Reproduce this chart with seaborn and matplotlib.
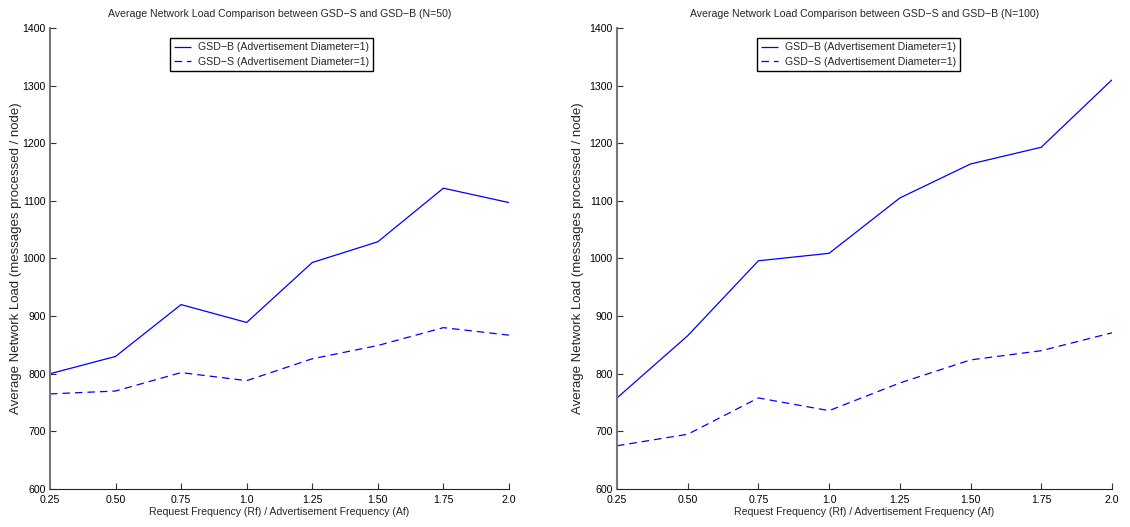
import numpy as np
import pandas as pd
import matplotlib
matplotlib.use("Agg")
import matplotlib.pyplot as plt
import seaborn as sns

ratio = [0.25, 0.5, 0.75, 1.0, 1.25, 1.5, 1.75, 2.0]
tick_labels = ["0.25", "0.50", "0.75", "1.0", "1.25", "1.50", "1.75", "2.0"]
n50_gsdb = [800, 830, 920, 889, 993, 1029, 1122, 1097]
n50_gsds = [765, 770, 802, 788, 826, 849, 880, 867]
n100_gsdb = [758, 866, 996, 1009, 1105, 1164, 1193, 1310]
n100_gsds = [675, 695, 758, 736, 784, 824, 840, 871]
series_names = ["GSD\u2212B (Advertisement Diameter=1)", "GSD\u2212S (Advertisement Diameter=1)"]
titles = ["Average Network Load Comparison between GSD\u2212S and GSD\u2212B (N=50)",
          "Average Network Load Comparison between GSD\u2212S and GSD\u2212B (N=100)"]

sns.set_style("ticks")
plt.rcParams['font.family'] = ['Liberation Sans', 'DejaVu Sans']
plt.rcParams['xtick.direction'] = 'in'
plt.rcParams['ytick.direction'] = 'in'

FS = 7.6

fig = plt.figure(figsize=(11.3, 5.27), dpi=100)
ax1 = fig.add_axes([0.0442, 0.0721, 0.4062, 0.8748])
ax2 = fig.add_axes([0.546, 0.0721, 0.438, 0.8748])

datasets = [(n50_gsdb, n50_gsds), (n100_gsdb, n100_gsds)]
legend_anchor = [(0.255, 0.985), (0.277, 0.985)]
ylabel_x = [-0.061, -0.067]
for ax, (b, s), title, anc, ylx in zip([ax1, ax2], datasets, titles, legend_anchor, ylabel_x):
    df = pd.DataFrame({
        "x": ratio * 2,
        "y": list(b) + list(s),
        "series": [series_names[0]] * len(ratio) + [series_names[1]] * len(ratio),
    })
    sns.lineplot(data=df, x="x", y="y", hue="series", style="series",
                 palette=["#0000ff", "#0000ff"],
                 dashes=[(1, 0), (6, 4)],
                 linewidth=0.9, ax=ax)
    ax.set_xlim(0.25, 2.0)
    ax.set_ylim(600, 1400)
    ax.set_xticks(ratio)
    ax.set_xticklabels(tick_labels)
    ax.set_yticks(np.arange(600, 1401, 100))
    ax.tick_params(labelsize=FS, length=4, width=0.8, colors='#333333', labelcolor='black', pad=3)
    ax.tick_params(axis='x', pad=4)
    ax.set_title(title, fontsize=FS, pad=8)
    ax.set_xlabel("Request Frequency (Rf) / Advertisement Frequency (Af)", fontsize=FS, labelpad=2)
    ax.set_ylabel("Average Network Load (messages processed / node)", fontsize=9.5)
    ax.yaxis.set_label_coords(ylx, 0.5)
    for sp in ["top", "right"]:
        ax.spines[sp].set_visible(False)
    ax.spines["left"].set_color("#777777")
    ax.spines["left"].set_linewidth(1.5)
    ax.spines["bottom"].set_color("#222222")
    leg = ax.legend(loc="upper left", bbox_to_anchor=anc, fontsize=FS, frameon=True,
                    fancybox=False, edgecolor="black", framealpha=1,
                    handlelength=1.6, handletextpad=0.6, borderpad=0.4,
                    labelspacing=0.45, borderaxespad=0.3)
    leg.get_frame().set_linewidth(1.0)

fig.savefig("out.png", dpi=100)
